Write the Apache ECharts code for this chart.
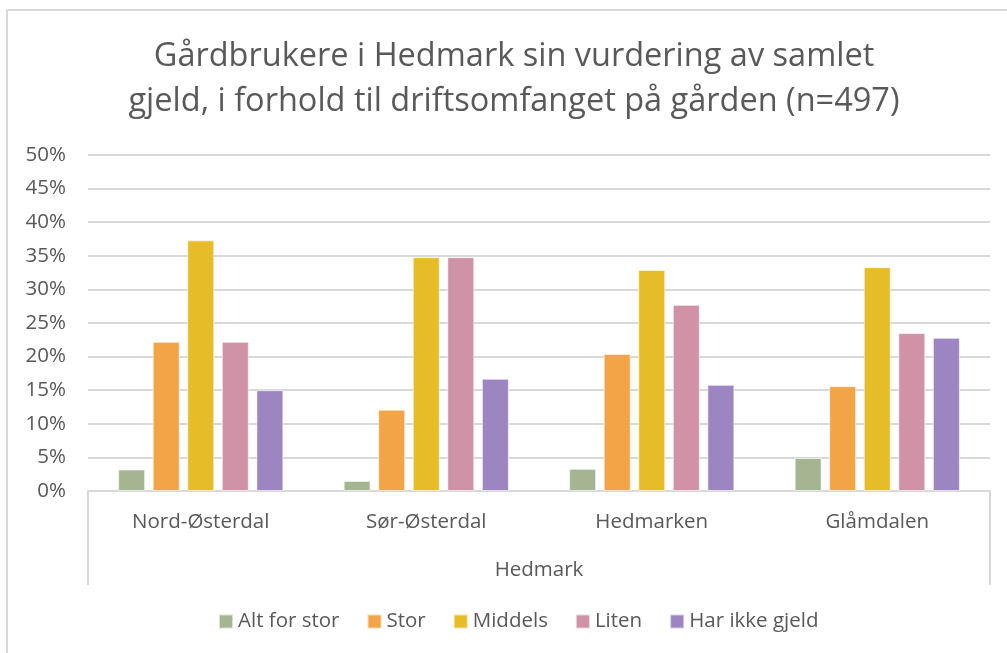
<!DOCTYPE html>
<html>
<head>
<meta charset="utf-8">
<script src="https://cdn.jsdelivr.net/npm/echarts@6/dist/echarts.min.js"></script>
<style>html,body{margin:0;padding:0;background:#fff}#c{width:1007px;height:653px}</style>
</head>
<body>
<div id="c"></div>
<script>
const titleText = 'Gårdbrukere i Hedmark sin vurdering av samlet\ngjeld, i forhold til driftsomfanget på gården (n=497)';
const categories = ['Nord-Østerdal', 'Sør-Østerdal', 'Hedmarken', 'Glåmdalen'];
const groupLabel = ['Hedmark'];
const seriesNames = ['Alt for stor', 'Stor', 'Middels', 'Liten', 'Har ikke gjeld'];
const altForStor = [3.2, 1.5, 3.3, 4.9];
const stor = [22.2, 12.1, 20.4, 15.6];
const middels = [37.3, 34.8, 32.9, 33.3];
const liten = [22.2, 34.8, 27.7, 23.5];
const harIkkeGjeld = [15.0, 16.7, 15.8, 22.8];
const colors = ['#a5b592', '#f3a447', '#e7bc29', '#d092a7', '#9c85c0'];

const FONT = 'Open Sans';
const chart = echarts.init(document.getElementById('c'), null, {renderer: 'canvas'});
const values = [altForStor, stor, middels, liten, harIkkeGjeld];
chart.setOption({
  animation: false,
  backgroundColor: '#fff',
  title: {
    text: titleText, left: 514, textAlign: 'center', top: 34, padding: 0,
    textStyle: {fontFamily: FONT, fontWeight: 'normal', fontSize: 32.5, color: '#595959', lineHeight: 45}
  },
  legend: {
    bottom: 16, left: 213, itemWidth: 14, itemHeight: 14, itemGap: 27,
    icon: 'rect',
    textStyle: {fontFamily: FONT, fontSize: 20.5, color: '#595959'},
    data: seriesNames
  },
  grid: {left: 88, right: 17, top: 155, bottom: 162},
  xAxis: [{
    type: 'category', data: categories, position: 'bottom',
    axisLine: {lineStyle: {color: '#d9d9d9', width: 2}},
    axisTick: {show: false},
    axisLabel: {fontFamily: FONT, fontSize: 20.5, color: '#595959', margin: 21}
  }, {
    type: 'category', data: groupLabel, position: 'bottom',
    axisLine: {show: false},
    axisTick: {show: true, length: 94, lineStyle: {color: '#d9d9d9', width: 2}},
    axisLabel: {fontFamily: FONT, fontSize: 20.5, color: '#595959', margin: 69}
  }],
  yAxis: {
    type: 'value', min: 0, max: 50, interval: 5,
    axisLine: {show: false}, axisTick: {show: false},
    splitLine: {lineStyle: {color: '#d9d9d9', width: 2}},
    axisLabel: {fontFamily: FONT, fontSize: 20.5, color: '#595959', margin: 22, formatter: '{value}%'}
  },
  series: seriesNames.map((n, i) => ({
    name: n, type: 'bar', data: values[i], xAxisIndex: 0,
    barWidth: 27, barGap: '28%',
    itemStyle: {color: colors[i], borderColor: 'rgba(255,255,255,0.6)', borderWidth: 1}
  })),
  graphic: [
    {type: 'line', shape: {x1: 7, y1: 10, x2: 1007, y2: 10}, style: {stroke: '#d9d9d9', lineWidth: 2}},
    {type: 'line', shape: {x1: 7, y1: 10, x2: 7, y2: 653}, style: {stroke: '#d9d9d9', lineWidth: 2}}
  ]
});
</script>
</body>
</html>
